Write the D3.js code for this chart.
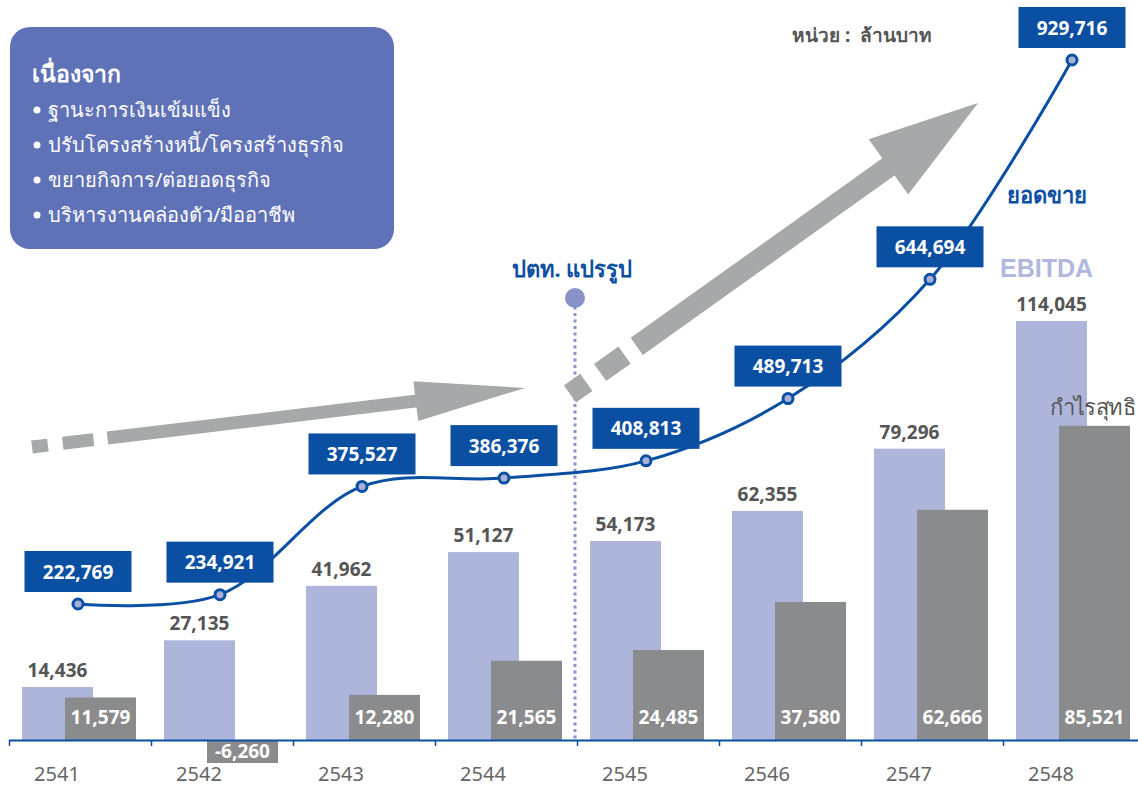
<!DOCTYPE html>
<html>
<head>
<meta charset="utf-8">
<style>
  body { margin: 0; background: #fff; }
  svg { display: block; font-family: "Noto Sans", "Open Sans", sans-serif; }
</style>
</head>
<body>
<svg id="chart" width="1138" height="787"></svg>
<script src="https://d3js.org/d3.v7.min.js"></script>
<script>
  const years = ["2541", "2542", "2543", "2544", "2545", "2546", "2547", "2548"];
  const sales = [222769, 234921, 375527, 386376, 408813, 489713, 644694, 929716];
  const ebitda = [14436, 27135, 41962, 51127, 54173, 62355, 79296, 114045];
  const netProfit = [11579, -6260, 12280, 21565, 24485, 37580, 62666, 85521];
  const reasons = [
    "ฐานะการเงินเข้มแข็ง",
    "ปรับโครงสร้างหนี้/โครงสร้างธุรกิจ",
    "ขยายกิจการ/ต่อยอดธุรกิจ",
    "บริหารงานคล่องตัว/มืออาชีพ"
  ];

  const blue = "#0b4fa3";
  const lavender = "#adb5db";
  const grey = "#8a8b8d";
  const arrowGrey = "#a7a8aa";
  const fmt = d3.format(",");

  const svg = d3.select("#chart");

  const x = d3.scaleBand().domain(years).range([9, 9 + 142 * years.length]);
  const y = d3.scaleLinear().domain([0, 114045]).range([740, 321]);
  const ySales = d3.scaleLinear().domain([222769, 929716]).range([604, 60]);

  const barW = 71;
  const rows = years.map((yr, i) => ({ yr, sales: sales[i], ebitda: ebitda[i], np: netProfit[i] }));

  // bars
  svg.append("g").selectAll("rect")
    .data(rows).join("rect")
    .attr("x", d => x(d.yr) + 13)
    .attr("y", d => y(d.ebitda))
    .attr("width", barW)
    .attr("height", d => y(0) - y(d.ebitda))
    .attr("fill", lavender);

  svg.append("g").selectAll("rect")
    .data(rows).join("rect")
    .attr("x", d => x(d.yr) + 56)
    .attr("y", d => y(Math.max(0, d.np)))
    .attr("width", barW)
    .attr("height", d => Math.abs(y(0) - y(d.np)))
    .attr("fill", grey);

  // ebitda labels
  svg.append("g").selectAll("text")
    .data(rows).join("text")
    .attr("x", d => x(d.yr) + 13 + barW / 2)
    .attr("y", d => y(d.ebitda) - 10)
    .attr("text-anchor", "middle")
    .attr("font-size", 19).attr("font-weight", 700)
    .attr("fill", "#555")
    .text(d => fmt(d.ebitda));

  // net profit labels
  svg.append("g").selectAll("text")
    .data(rows).join("text")
    .attr("x", d => x(d.yr) + 56 + barW / 2)
    .attr("y", d => d.np < 0 ? y(d.np / 2) + 7 : y(0) - 16)
    .attr("text-anchor", "middle")
    .attr("font-size", 19).attr("font-weight", 700)
    .attr("fill", "#fff")
    .text(d => fmt(d.np).replace("−", "-"));

  // x axis
  const axis = svg.append("g");
  axis.append("line")
    .attr("x1", 9).attr("x2", 1138)
    .attr("y1", y(0) + 0.5).attr("y2", y(0) + 0.5)
    .attr("stroke", blue).attr("stroke-width", 2);
  axis.selectAll(".tick").data(years).join("line")
    .attr("x1", d => x(d) + 0.5).attr("x2", d => x(d) + 0.5)
    .attr("y1", y(0)).attr("y2", y(0) + 6)
    .attr("stroke", blue).attr("stroke-width", 1.5);
  axis.selectAll("text").data(years).join("text")
    .attr("x", d => x(d) + 48)
    .attr("y", 781)
    .attr("text-anchor", "middle")
    .attr("font-size", 20)
    .attr("fill", "#666")
    .text(d => d);

  // privatisation marker
  const px = x("2545") - 2;
  svg.append("line")
    .attr("x1", px).attr("x2", px)
    .attr("y1", 300).attr("y2", y(0))
    .attr("stroke", "#8891c8").attr("stroke-width", 3)
    .attr("stroke-dasharray", "3 3.5");
  svg.append("circle")
    .attr("cx", px).attr("cy", 298).attr("r", 10)
    .attr("fill", "#8891c8");
  svg.append("text")
    .attr("x", px - 3).attr("y", 277)
    .attr("text-anchor", "middle")
    .attr("font-size", 22).attr("font-weight", 700)
    .attr("fill", blue)
    .text("ปตท. แปรรูป");

  // big grey arrows
  function arrow(sx, sy, tx, ty, pieces, shaftW, headLen, headW) {
    const len = Math.hypot(tx - sx, ty - sy);
    const ux = (tx - sx) / len, uy = (ty - sy) / len;
    const nx = -uy, ny = ux;
    const pt = (s, o) => [sx + ux * s + nx * o, sy + uy * s + ny * o];
    const g = svg.append("g").attr("fill", arrowGrey);
    pieces.forEach(([a, b]) => {
      g.append("polygon").attr("points",
        [pt(a, -shaftW / 2), pt(b, -shaftW / 2), pt(b, shaftW / 2), pt(a, shaftW / 2)].join(" "));
    });
    const hb = len - headLen;
    g.append("polygon").attr("points",
      [pt(hb, -headW / 2), pt(len, 0), pt(hb, headW / 2)].join(" "));
  }
  arrow(32, 447, 525, 388, [[0, 16], [31, 62], [76, 392]], 13, 110, 40);
  arrow(570, 394, 978, 103, [[0, 20], [37, 67], [82, 395]], 21, 110, 68);

  // sales line
  const line = d3.line()
    .x(d => x(d.yr) + 69)
    .y(d => ySales(d.sales))
    .curve(d3.curveCatmullRom.alpha(0.5));
  svg.append("path")
    .datum(rows)
    .attr("d", line)
    .attr("fill", "none")
    .attr("stroke", blue)
    .attr("stroke-width", 3);
  svg.append("g").selectAll("circle")
    .data(rows).join("circle")
    .attr("cx", d => x(d.yr) + 69)
    .attr("cy", d => ySales(d.sales))
    .attr("r", 5)
    .attr("fill", "#a9b0d8")
    .attr("stroke", blue).attr("stroke-width", 3);

  const boxes = svg.append("g").selectAll("g")
    .data(rows).join("g")
    .attr("transform", d => `translate(${x(d.yr) + 69},${ySales(d.sales) - 12})`);
  boxes.append("rect")
    .attr("x", -53.5).attr("y", -41)
    .attr("width", 107).attr("height", 41)
    .attr("fill", blue);
  boxes.append("text")
    .attr("y", -13.5)
    .attr("text-anchor", "middle")
    .attr("font-size", 19).attr("font-weight", 700)
    .attr("fill", "#fff")
    .text(d => fmt(d.sales));

  // series names
  svg.append("text")
    .attr("x", 1007).attr("y", 203)
    .attr("font-size", 22).attr("font-weight", 700)
    .attr("fill", blue)
    .text("ยอดขาย");
  svg.append("text")
    .attr("x", 1000).attr("y", 277)
    .attr("font-family", "Liberation Sans, Arial, sans-serif")
    .attr("font-size", 25).attr("font-weight", 700)
    .attr("fill", "#b0b8de")
    .text("EBITDA");
  svg.append("text")
    .attr("x", 1049).attr("y", 415)
    .attr("font-size", 22).attr("font-weight", 500)
    .attr("fill", "#555")
    .attr("textLength", 86)
    .text("กำไรสุทธิ");

  svg.append("text")
    .attr("x", 792).attr("y", 42)
    .attr("font-size", 19).attr("font-weight", 700)
    .attr("fill", "#555")
    .attr("xml:space", "preserve")
    .text("หน่วย :  ล้านบาท");

  // reasons box
  const note = svg.append("g");
  note.append("rect")
    .attr("x", 10).attr("y", 27)
    .attr("width", 384).attr("height", 222)
    .attr("rx", 20)
    .attr("fill", "#5f72b7");
  note.append("text")
    .attr("x", 32).attr("y", 82)
    .attr("font-size", 23).attr("font-weight", 700)
    .attr("fill", "#fff")
    .text("เนื่องจาก");
  const items = note.selectAll(".item").data(reasons).join("g")
    .attr("transform", (d, i) => `translate(0,${117 + i * 35})`);
  items.append("circle")
    .attr("cx", 37).attr("cy", -7).attr("r", 3.5)
    .attr("fill", "#fff");
  items.append("text")
    .attr("x", 48)
    .attr("font-size", 20)
    .attr("fill", "#fff")
    .text(d => d);
</script>
</body>
</html>
